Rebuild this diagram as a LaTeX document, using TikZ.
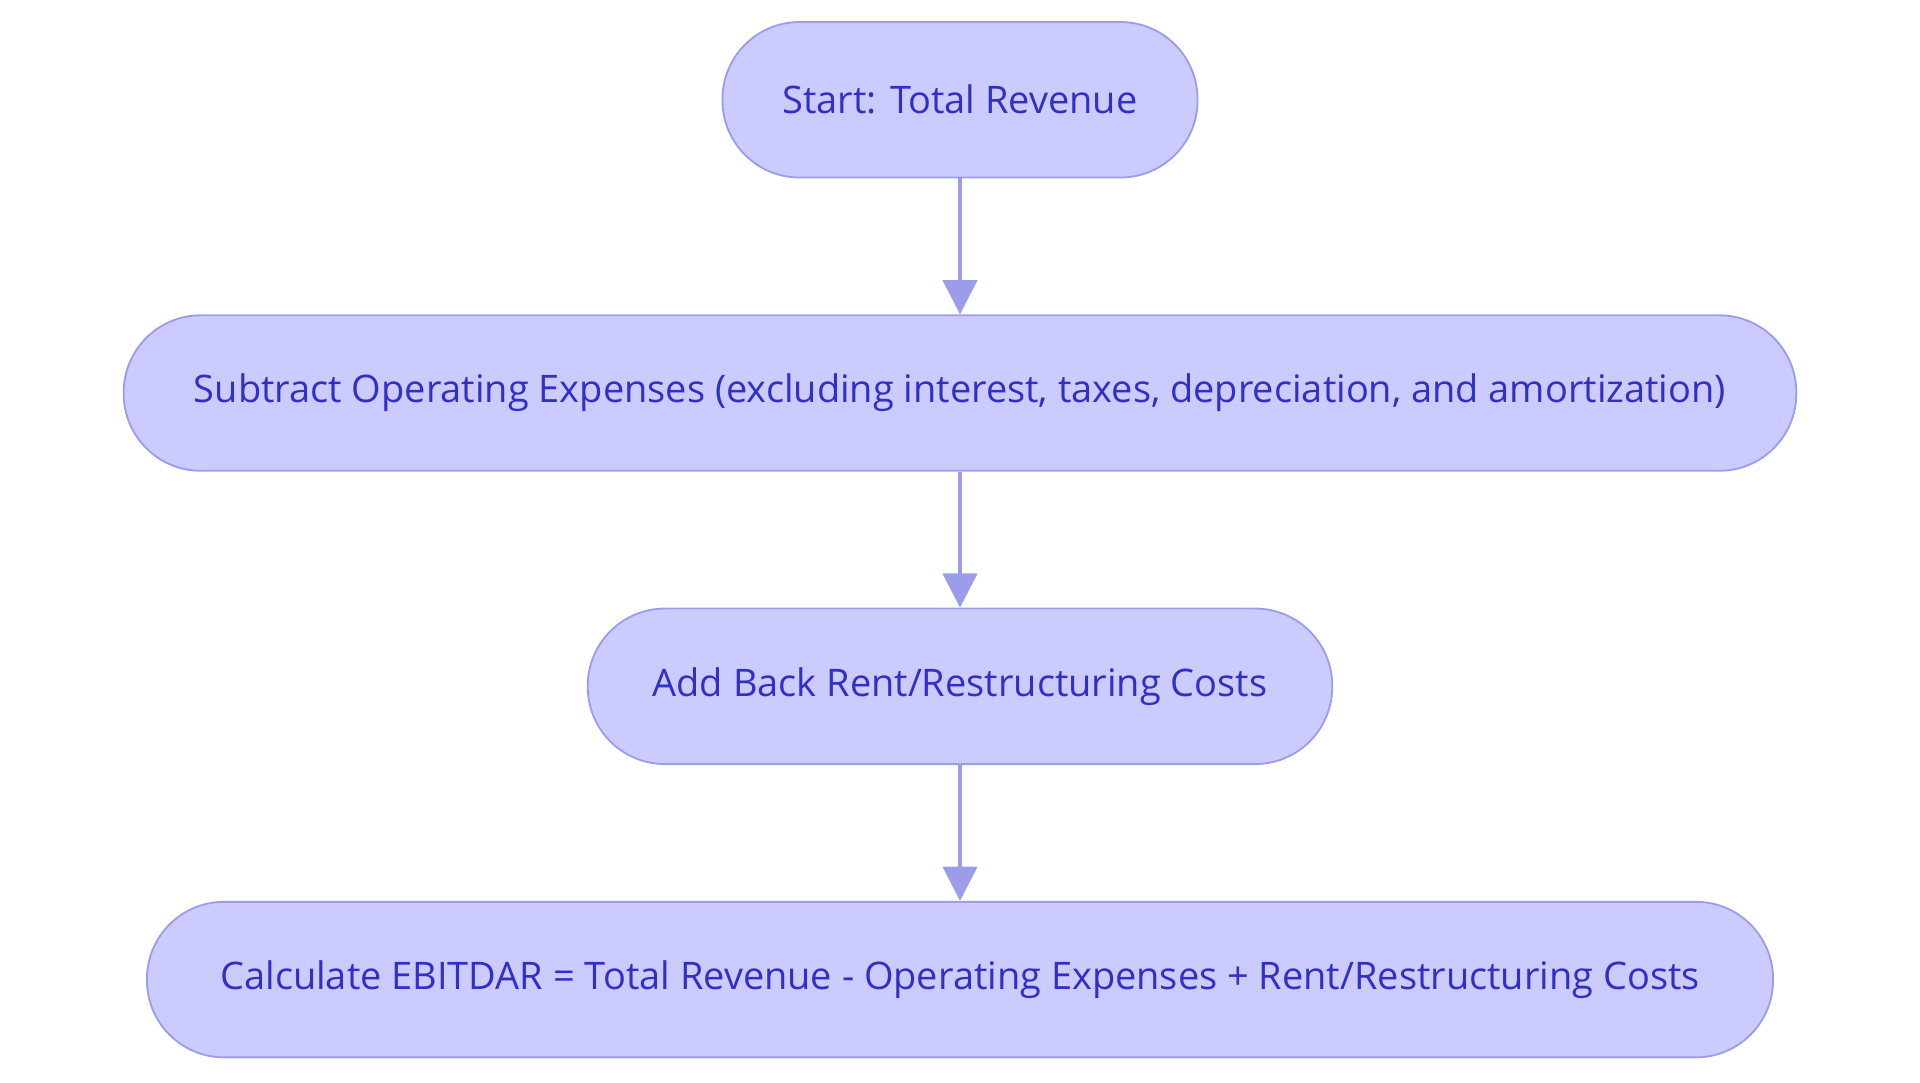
\documentclass[tikz,border=0pt]{standalone}
\usepackage{fontspec}
\setmainfont{Open Sans}
\usetikzlibrary{arrows.meta}
\definecolor{boxfill}{HTML}{CBCBFF}
\definecolor{boxline}{HTML}{9C9CEC}
\definecolor{boxtext}{HTML}{3030C8}
\tikzset{
  flowbox/.style={draw=boxline, line width=1.5pt, fill=boxfill, text=boxtext,
    rounded corners=63pt, minimum height=127pt, inner sep=0pt,
    font=\fontsize{31}{36}\selectfont},
  flowarrow/.style={draw=boxline, line width=3pt, -{Triangle[length=28pt,width=28pt]}}
}
\begin{document}
\begin{tikzpicture}[x=1pt,y=1pt]
\useasboundingbox (0,0) rectangle (1568,884);
\node[flowbox, minimum width=388pt] (a) at (784,802.5) {Start: Total Revenue};
\node[flowbox, minimum width=1366pt] (b) at (784,563) {Subtract Operating Expenses (excluding interest, taxes, depreciation, and amortization)};
\node[flowbox, minimum width=608pt] (c) at (784,323.5) {Add Back Rent/Restructuring Costs};
\node[flowbox, minimum width=1328pt] (d) at (784,84) {Calculate EBITDAR = Total Revenue - Operating Expenses + Rent/Restructuring Costs};
\draw[flowarrow] (a) -- (b);
\draw[flowarrow] (b) -- (c);
\draw[flowarrow] (c) -- (d);
\end{tikzpicture}
\end{document}
